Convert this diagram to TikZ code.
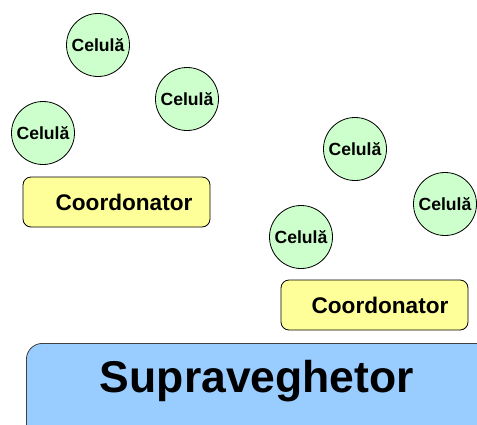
\documentclass[tikz,border=0pt]{standalone}
\usepackage{fontspec}
\setmainfont{Liberation Sans}
\definecolor{cellgreen}{HTML}{CCFFCC}
\definecolor{coordyellow}{HTML}{FFFF99}
\definecolor{supblue}{HTML}{99CCFF}
\definecolor{supedge}{HTML}{404040}
\begin{document}
\begin{tikzpicture}[x=1pt,y=-1pt,
  cell/.style={circle,draw=black,line width=0.8pt,fill=cellgreen,minimum size=63pt,inner sep=0pt,font=\bfseries\fontsize{17.6}{20}\selectfont},
  coordbox/.style={draw=black,line width=0.8pt,fill=coordyellow,rounded corners=8pt,minimum width=187pt,minimum height=50pt,inner sep=0pt},
  coordtext/.style={font=\bfseries\fontsize{22.6}{26}\selectfont,inner sep=0pt},
  supbox/.style={draw=supedge,line width=0.8pt,fill=supblue,rounded corners=16pt,minimum width=480pt,minimum height=110pt,inner sep=0pt},
  suptext/.style={font=\bfseries\fontsize{44.5}{50}\selectfont,inner sep=0pt}]
\useasboundingbox (0,0) rectangle (477,424);
\clip (0,0) rectangle (477,424);
% cells
\node[cell] (c1) at (98,45) {Celulă};
\node[cell] (c2) at (187,99) {Celulă};
\node[cell] (c3) at (43,133) {Celulă};
\node[cell] (c4) at (355,149) {Celulă};
\node[cell] (c5) at (445,204) {Celulă};
\node[cell] (c6) at (301,237) {Celulă};
% coordinators
\node[coordbox] (k1) at (116.5,202) {};
\node[coordtext] (k1t) at (124,202) {Coordonator};
\node[coordbox] (k2) at (374.5,305) {};
\node[coordtext] (k2t) at (380,305) {Coordonator};
% supervisor
\node[supbox,anchor=north west] (s) at (26,343) {};
\node[suptext] (st) at (257,381) {Supraveghetor};
\end{tikzpicture}
\end{document}
